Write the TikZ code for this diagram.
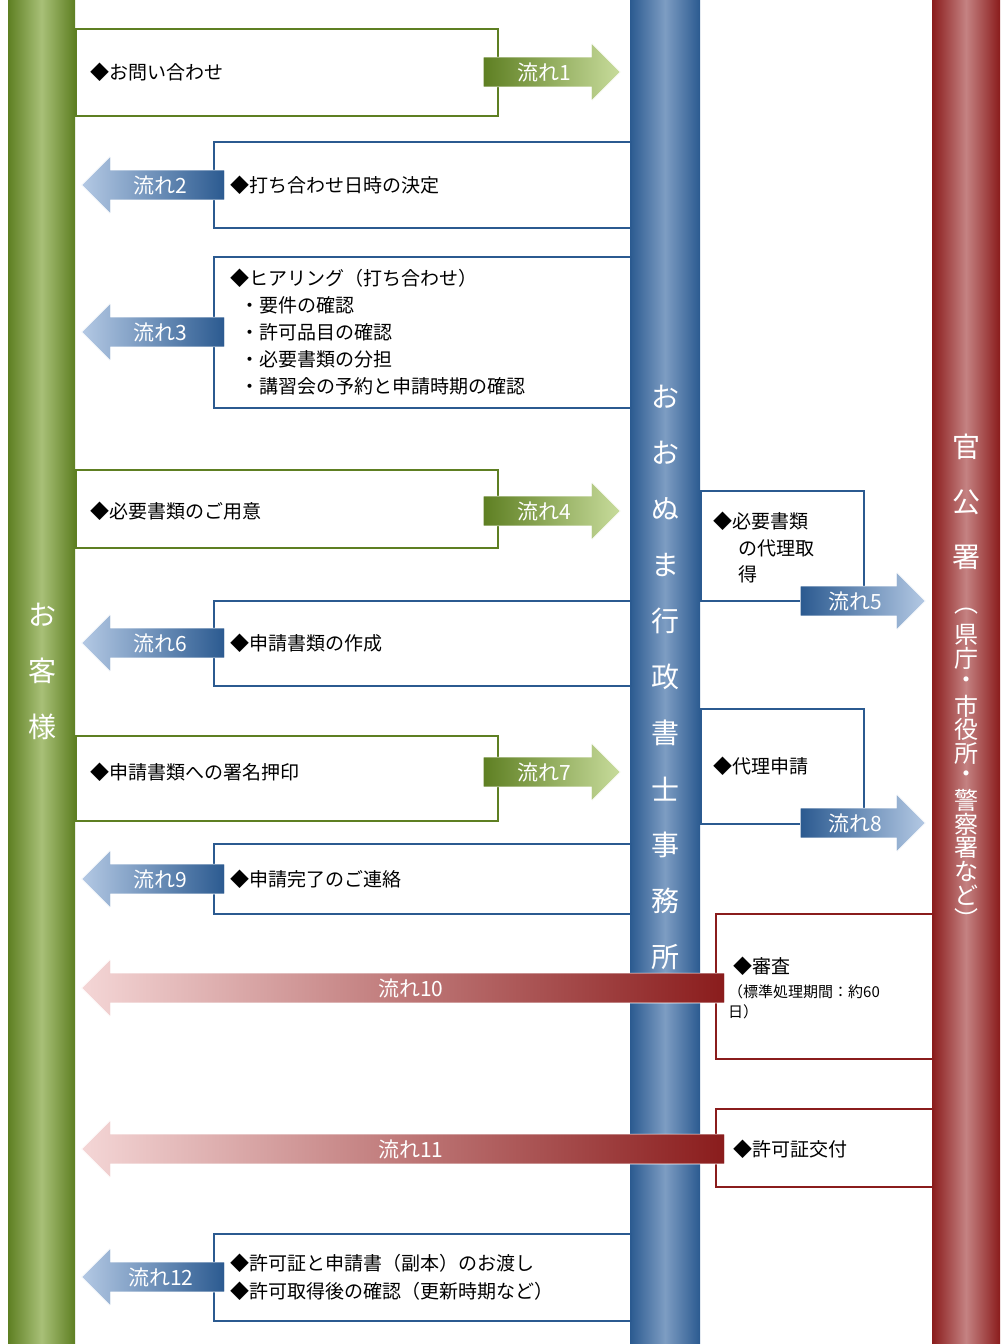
\documentclass[tikz,border=0pt]{standalone}
\usepackage{fontspec}
\setmainfont{Noto Sans CJK JP}
\usetikzlibrary{shapes.arrows}
\definecolor{gdark}{HTML}{5E7F22}
\definecolor{glight}{HTML}{C8DC9C}
\definecolor{bdark}{HTML}{2B5A90}
\definecolor{blight}{HTML}{B4C9E4}
\definecolor{rdark}{HTML}{8A1C1C}
\definecolor{rlight}{HTML}{F4D6D6}
\tikzset{
  bartxt/.style={text=white, font=\fontsize{28}{30}\selectfont},
  boxtxt/.style={anchor=west, font=\fontsize{19}{22}\selectfont, inner sep=0pt},
  smalltxt/.style={anchor=west, font=\fontsize{15}{18}\selectfont, inner sep=0pt},
  flowbox/.style={draw=#1, line width=2pt, fill=white, anchor=north west, inner sep=0pt},
  flow/.style={single arrow, single arrow head extend=14pt, inner xsep=4pt, inner ysep=5pt,
    text=white, font=\fontsize{21}{24}\selectfont, anchor=tail, draw=white, line width=0.6pt},
  flowr/.style={flow, left color=#1dark, right color=#1light},
  flowl/.style={flow, shape border rotate=180, left color=#1light, right color=#1dark},
}
\begin{document}
\begin{tikzpicture}[x=1pt,y=-1pt]
\useasboundingbox[fill=white] (0,0) rectangle (1008,1344);
% bars
\shade[left color=gdark, right color=gdark, middle color=glight!70!gdark] (8,0) rectangle (75,1344);
\shade[left color=bdark, right color=bdark, middle color=blight!60!bdark] (630,0) rectangle (700,1344);
\shade[left color=rdark, right color=rdark, middle color=rlight!55!rdark] (932,0) rectangle (1000,1344);
\foreach \c [count=\i] in {お,客,様}
  \node[bartxt] (g\i) at (42,559+56*\i) {\c};
\foreach \c [count=\i] in {お,お,ぬ,ま,行,政,書,士,事,務,所}
  \node[bartxt] (o\i) at (665,341+56*\i) {\c};
\foreach \c [count=\i] in {官,公,署}
  \node[bartxt] (k\i) at (966,392+55*\i) {\c};
\foreach \c [count=\i] in {︵,県,庁,・,市,役,所,・,警,察,署,な,ど,︶}
  \node[bartxt, inner sep=0pt, font=\fontsize{24}{26}\selectfont] (p\i) at (966,588+23.6*\i) {\c};
% boxes
\node[flowbox=gdark, minimum width=422, minimum height=87] (b1) at (75,28) {};
\node[flowbox=bdark, minimum width=417, minimum height=86] (b2) at (213,141) {};
\node[flowbox=bdark, minimum width=417, minimum height=151] (b3) at (213,256) {};
\node[flowbox=gdark, minimum width=422, minimum height=78] (b4) at (75,469) {};
\node[flowbox=bdark, minimum width=163, minimum height=110] (b5) at (700,490) {};
\node[flowbox=bdark, minimum width=417, minimum height=85] (b6) at (213,600) {};
\node[flowbox=gdark, minimum width=422, minimum height=85] (b7) at (75,735) {};
\node[flowbox=bdark, minimum width=163, minimum height=115] (b8) at (700,708) {};
\node[flowbox=bdark, minimum width=417, minimum height=70] (b9) at (213,843) {};
\node[flowbox=rdark, minimum width=217, minimum height=145] (b10) at (715,913) {};
\node[flowbox=rdark, minimum width=217, minimum height=78] (b11) at (715,1108) {};
\node[flowbox=bdark, minimum width=417, minimum height=87] (b12) at (213,1233) {};
% texts
\node[boxtxt] (t1) at (90,72) {◆お問い合わせ};
\node[boxtxt] (t2) at (230,185) {◆打ち合わせ日時の決定};
\node[boxtxt] (t3a) at (230,278) {◆ヒアリング（打ち合わせ）};
\node[boxtxt] (t3b) at (240,305) {・要件の確認};
\node[boxtxt] (t3c) at (240,332) {・許可品目の確認};
\node[boxtxt] (t3d) at (240,359) {・必要書類の分担};
\node[boxtxt] (t3e) at (240,386) {・講習会の予約と申請時期の確認};
\node[boxtxt] (t4) at (90,511) {◆必要書類のご用意};
\node[boxtxt] (t5a) at (713,521) {◆必要書類};
\node[boxtxt] (t5b) at (738,548) {の代理取};
\node[boxtxt] (t5c) at (738,574) {得};
\node[boxtxt] (t6) at (230,643) {◆申請書類の作成};
\node[boxtxt] (t7) at (90,772) {◆申請書類への署名押印};
\node[boxtxt] (t8) at (713,766) {◆代理申請};
\node[boxtxt] (t9) at (230,879) {◆申請完了のご連絡};
\node[boxtxt] (t10a) at (733,966) {◆審査};
\node[smalltxt] (t10b) at (728,992) {（標準処理期間：約60};
\node[smalltxt] (t10c) at (728,1012) {日）};
\node[boxtxt] (t11) at (733,1149) {◆許可証交付};
\node[boxtxt] (t12a) at (230,1263) {◆許可証と申請書（副本）のお渡し};
\node[boxtxt] (t12b) at (230,1291) {◆許可取得後の確認（更新時期など）};
% flows
\node[flowr=g, minimum height=137] (f1) at (483,72) {流れ1};
\node[flowl=b, minimum height=143] (f2) at (225,185) {流れ2};
\node[flowl=b, minimum height=143] (f3) at (225,332) {流れ3};
\node[flowr=g, minimum height=137] (f4) at (483,511) {流れ4};
\node[flowr=b, minimum height=125] (f5) at (800,601) {流れ5};
\node[flowl=b, minimum height=143] (f6) at (225,643) {流れ6};
\node[flowr=g, minimum height=137] (f7) at (483,772) {流れ7};
\node[flowr=b, minimum height=125] (f8) at (800,823) {流れ8};
\node[flowl=b, minimum height=143] (f9) at (225,879) {流れ9};
\node[flowl=r, minimum height=643] (f10) at (725,988) {流れ10};
\node[flowl=r, minimum height=643] (f11) at (725,1149) {流れ11};
\node[flowl=b, minimum height=143] (f12) at (225,1277) {流れ12};
\end{tikzpicture}
\end{document}
